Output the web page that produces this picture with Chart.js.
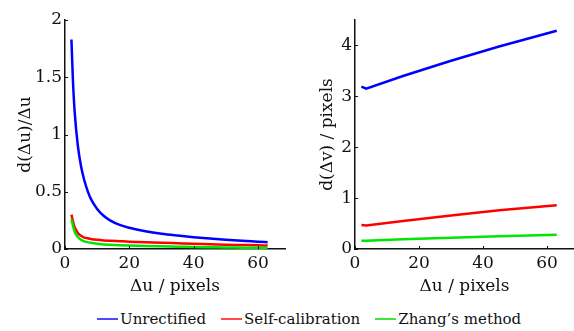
<!DOCTYPE html>
<html>
<head>
<meta charset="utf-8">
<script src="https://cdn.jsdelivr.net/npm/chart.js@4.4.1/dist/chart.umd.min.js"></script>
<style>
  html, body { margin: 0; padding: 0; background: #fff; }
  #wrap { position: relative; width: 574px; height: 331px; overflow: hidden; }
  #leftBox { position: absolute; left: 0; top: 0; width: 290px; height: 300px; }
  #rightBox { position: absolute; left: 290px; top: 0; width: 284px; height: 300px; }
  #legend { position: absolute; left: 97px; top: 310px; display: flex; align-items: center;
            font-family: 'DejaVu Serif', serif; font-size: 15px; color: #111; white-space: nowrap; }
  .item { display: flex; align-items: center; margin-right: 15px; }
  .swatch { display: inline-block; width: 21px; height: 1.5px; margin-right: 2px; }
</style>
</head>
<body>
<div id="wrap">
  <div id="leftBox"><canvas id="leftChart"></canvas></div>
  <div id="rightBox"><canvas id="rightChart"></canvas></div>
  <div id="legend"></div>
</div>
<script>
// ── Data ──
const seriesNames = ['Unrectified', 'Self-calibration', 'Zhang\u2019s method'];
const seriesColors = ['#0000ff', '#ff0000', '#00e600'];
const legendColors = ['#4a4aff', '#ff4a4a', '#3ae83a'];

// left panel: d(Δu)/Δu vs Δu
const leftX = [2, 2.5, 3, 4, 5, 6, 7, 8, 10, 12, 14, 17, 20, 25, 30, 35, 40, 45, 50, 55, 60, 63];
const leftUnrect = [1.83, 1.45, 1.2, 0.9, 0.72, 0.6, 0.51, 0.44, 0.35, 0.29, 0.25, 0.21, 0.185, 0.155, 0.133, 0.117, 0.103, 0.091, 0.081, 0.072, 0.064, 0.059];
const leftSelf = [0.30, 0.24, 0.19, 0.14, 0.115, 0.1, 0.094, 0.088, 0.08, 0.075, 0.072, 0.068, 0.064, 0.059, 0.055, 0.05, 0.045, 0.042, 0.038, 0.035, 0.032, 0.031];
const leftZhang = [0.26, 0.2, 0.15, 0.105, 0.08, 0.066, 0.06, 0.054, 0.045, 0.04, 0.037, 0.033, 0.03, 0.026, 0.023, 0.02, 0.017, 0.015, 0.013, 0.012, 0.011, 0.011];
const leftYTicks = [0, 0.5, 1, 1.5, 2];

// right panel: d(Δv) vs Δu
const rightX = [2, 3.5, 15, 30, 45, 63];
const rightUnrect = [3.19, 3.15, 3.40, 3.70, 3.98, 4.29];
const rightSelf = [0.47, 0.46, 0.55, 0.66, 0.76, 0.86];
const rightZhang = [0.16, 0.162, 0.19, 0.22, 0.25, 0.28];
const rightYTicks = [0, 1, 2, 3, 4];

const xTicks = [0, 20, 40, 60];

const FONT = 'DejaVu Serif';
const INK = '#111';

// short inward tick marks, like the original figure
const inwardTicks = {
  id: 'inwardTicks',
  afterDraw(chart) {
    const { ctx, chartArea } = chart;
    const xs = chart.scales.x, ys = chart.scales.y;
    ctx.save();
    ctx.strokeStyle = INK;
    ctx.lineWidth = 1;
    ctx.beginPath();
    xs.ticks.forEach(t => {
      const px = Math.round(xs.getPixelForValue(t.value)) + 0.5;
      ctx.moveTo(px, chartArea.bottom);
      ctx.lineTo(px, chartArea.bottom - 3);
    });
    ys.ticks.forEach(t => {
      const py = Math.round(ys.getPixelForValue(t.value)) + 0.5;
      ctx.moveTo(chartArea.left, py);
      ctx.lineTo(chartArea.left + 3, py);
    });
    ctx.stroke();
    ctx.restore();
  }
};

function makeDatasets(xVals, ys, smooth) {
  return ys.map((vals, i) => ({
    label: seriesNames[i],
    data: xVals.map((x, k) => ({ x, y: vals[k] })),
    borderColor: seriesColors[i],
    backgroundColor: seriesColors[i],
    borderWidth: 2.5,
    pointRadius: 0,
    cubicInterpolationMode: smooth ? 'monotone' : 'default',
    tension: 0
  })).reverse(); // blue on top
}

function makeChart(canvasId, datasets, yMax, yTicks, yTitle, yTitlePad, rightPad) {
  const canvas = document.getElementById(canvasId);
  return new Chart(canvas, {
    type: 'line',
    data: { datasets },
    plugins: [inwardTicks],
    options: {
      responsive: true,
      maintainAspectRatio: false,
      animation: false,
      layout: { padding: { top: 20, left: 0, right: rightPad, bottom: 0 } },
      plugins: { legend: { display: false }, tooltip: { enabled: false } },
      scales: {
        x: {
          type: 'linear',
          min: 0,
          max: 68.4,
          afterBuildTicks: axis => { axis.ticks = xTicks.map(v => ({ value: v })); },
          afterFit: s => { s.height = 51; },
          grid: { display: false, drawTicks: false },
          border: { display: true, color: INK, width: 1.5 },
          ticks: { color: INK, padding: 4, maxRotation: 0, callback: v => String(v),
                   font: { size: 17, family: FONT } },
          title: { display: true, text: '\u0394u / pixels', color: INK, padding: { top: 0, bottom: 3 },
                   font: { size: 17, family: FONT } }
        },
        y: {
          min: 0,
          max: yMax,
          afterBuildTicks: axis => { axis.ticks = yTicks.map(v => ({ value: v })); },
          afterFit: s => { s.width = 65; },
          grid: { display: false, drawTicks: false },
          border: { display: true, color: INK, width: 1.5 },
          ticks: { color: INK, padding: 3, callback: v => String(v), font: { size: 17, family: FONT } },
          title: { display: true, text: yTitle, color: INK, padding: { top: yTitlePad, bottom: 0 },
                   font: { size: 17, family: FONT } }
        }
      }
    }
  });
}

makeChart('leftChart', makeDatasets(leftX, [leftUnrect, leftSelf, leftZhang], true),
  2, leftYTicks, 'd(\u0394u)/\u0394u', 15, 5);
makeChart('rightChart', makeDatasets(rightX, [rightUnrect, rightSelf, rightZhang], false),
  4.5, rightYTicks, 'd(\u0394v) / pixels', 27, 0);

// shared legend under both panels
const legend = document.getElementById('legend');
seriesNames.forEach((name, i) => {
  const item = document.createElement('div');
  item.className = 'item';
  const sw = document.createElement('span');
  sw.className = 'swatch';
  sw.style.background = legendColors[i];
  const txt = document.createElement('span');
  txt.textContent = name;
  item.appendChild(sw);
  item.appendChild(txt);
  legend.appendChild(item);
});
</script>
</body>
</html>
